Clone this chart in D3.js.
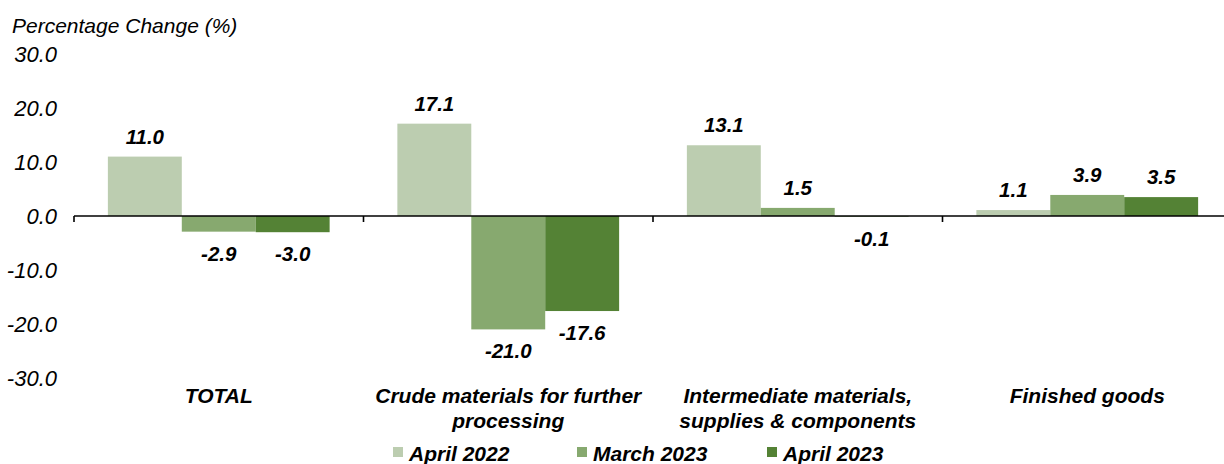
<!DOCTYPE html>
<html>
<head>
<meta charset="utf-8">
<script src="https://cdn.jsdelivr.net/npm/d3@7"></script>
<style>
  body { margin: 0; background: #fff; }
  svg { display: block; font-family: Arial, "Liberation Sans", sans-serif; font-style: italic; }
</style>
</head>
<body>
<svg width="1224" height="464"></svg>
<script>
var categories = [
    ["TOTAL"],
    ["Crude materials for further", "processing"],
    ["Intermediate materials,", "supplies & components"],
    ["Finished goods"]
];
var seriesNames = ["April 2022", "March 2023", "April 2023"];
var april2022 = [11.0, 17.1, 13.1, 1.1];
var march2023 = [-2.9, -21.0, 1.5, 3.9];
var april2023 = [-3.0, -17.6, -0.1, 3.5];
var yTicks = [30, 20, 10, 0, -10, -20, -30];
var colors = ["#bccdb0", "#87a96f", "#548235"];

var seriesValues = [april2022, march2023, april2023];
var catKeys = categories.map(function(c) { return c.join(" "); });

var svg = d3.select("svg");

var x0 = d3.scaleBand()
    .domain(catKeys)
    .range([74, 1232])
    .paddingInner(0)
    .paddingOuter(0);

var gap = x0.bandwidth() * 0.117;
var x1 = d3.scaleBand()
    .domain(seriesNames)
    .range([gap, x0.bandwidth() - gap]);

var y = d3.scaleLinear()
    .domain([-30, 30])
    .range([378, 54]);

// axis title
svg.append("text")
    .attr("x", 12)
    .attr("y", 33)
    .attr("font-size", 21)
    .attr("fill", "#000")
    .text("Percentage Change (%)");

// y tick labels (no axis line)
svg.append("g")
    .selectAll("text")
    .data(yTicks)
    .enter().append("text")
    .attr("x", 57)
    .attr("y", function(d) { return y(d) + 8; })
    .attr("text-anchor", "end")
    .attr("font-size", 22)
    .attr("fill", "#000")
    .text(function(d) { return d3.format(".1f")(d).replace("−", "-"); });

// bars
var groups = svg.append("g")
    .selectAll("g")
    .data(catKeys)
    .enter().append("g")
    .attr("transform", function(d) { return "translate(" + x0(d) + ",0)"; });

groups.selectAll("rect")
    .data(function(d, i) {
        return seriesNames.map(function(s, j) {
            return {series: s, value: seriesValues[j][i], color: colors[j]};
        });
    })
    .enter().append("rect")
    .attr("x", function(d) { return x1(d.series); })
    .attr("width", x1.bandwidth())
    .attr("y", function(d) { return y(Math.max(0, d.value)); })
    .attr("height", function(d) { return Math.abs(y(d.value) - y(0)); })
    .attr("fill", function(d) { return d.color; });

// value labels
groups.selectAll("text")
    .data(function(d, i) {
        return seriesNames.map(function(s, j) {
            return {series: s, value: seriesValues[j][i]};
        });
    })
    .enter().append("text")
    .attr("x", function(d) { return x1(d.series) + x1.bandwidth() / 2; })
    .attr("y", function(d) {
        return d.value >= 0 ? y(d.value) - 13 : y(d.value) + 29;
    })
    .attr("text-anchor", "middle")
    .attr("font-size", 20.5)
    .attr("font-weight", "bold")
    .attr("fill", "#000")
    .text(function(d) { return d3.format(".1f")(d.value).replace("−", "-"); });

// x axis line + ticks at category boundaries
var xAxis = svg.append("g");
xAxis.append("line")
    .attr("x1", 74)
    .attr("x2", 1224)
    .attr("y1", y(0))
    .attr("y2", y(0))
    .attr("stroke", "#000")
    .attr("stroke-width", 1.6);
xAxis.selectAll("line.tick")
    .data(catKeys)
    .enter().append("line")
    .attr("class", "tick")
    .attr("x1", function(d) { return x0(d); })
    .attr("x2", function(d) { return x0(d); })
    .attr("y1", y(0))
    .attr("y2", y(0) + 6)
    .attr("stroke", "#000")
    .attr("stroke-width", 1.6);

// category labels
var catLabels = svg.append("g")
    .selectAll("text")
    .data(categories)
    .enter().append("text")
    .attr("text-anchor", "middle")
    .attr("font-size", 21)
    .attr("font-weight", "bold")
    .attr("fill", "#000")
    .attr("transform", function(d) {
        return "translate(" + (x0(d.join(" ")) + x0.bandwidth() / 2) + ",403)";
    });
catLabels.selectAll("tspan")
    .data(function(d) { return d; })
    .enter().append("tspan")
    .attr("x", 0)
    .attr("y", function(d, i) { return i * 25; })
    .text(function(d) { return d; });

// legend
var legendX = [393, 577, 767];
var legend = svg.append("g")
    .selectAll("g")
    .data(seriesNames)
    .enter().append("g")
    .attr("transform", function(d, i) { return "translate(" + legendX[i] + ",447)"; });
legend.append("rect")
    .attr("width", 10)
    .attr("height", 10)
    .attr("fill", function(d, i) { return colors[i]; });
legend.append("text")
    .attr("x", 16)
    .attr("y", 14)
    .attr("font-size", 21)
    .attr("font-weight", "bold")
    .attr("fill", "#000")
    .text(function(d) { return d; });
</script>
</body>
</html>
